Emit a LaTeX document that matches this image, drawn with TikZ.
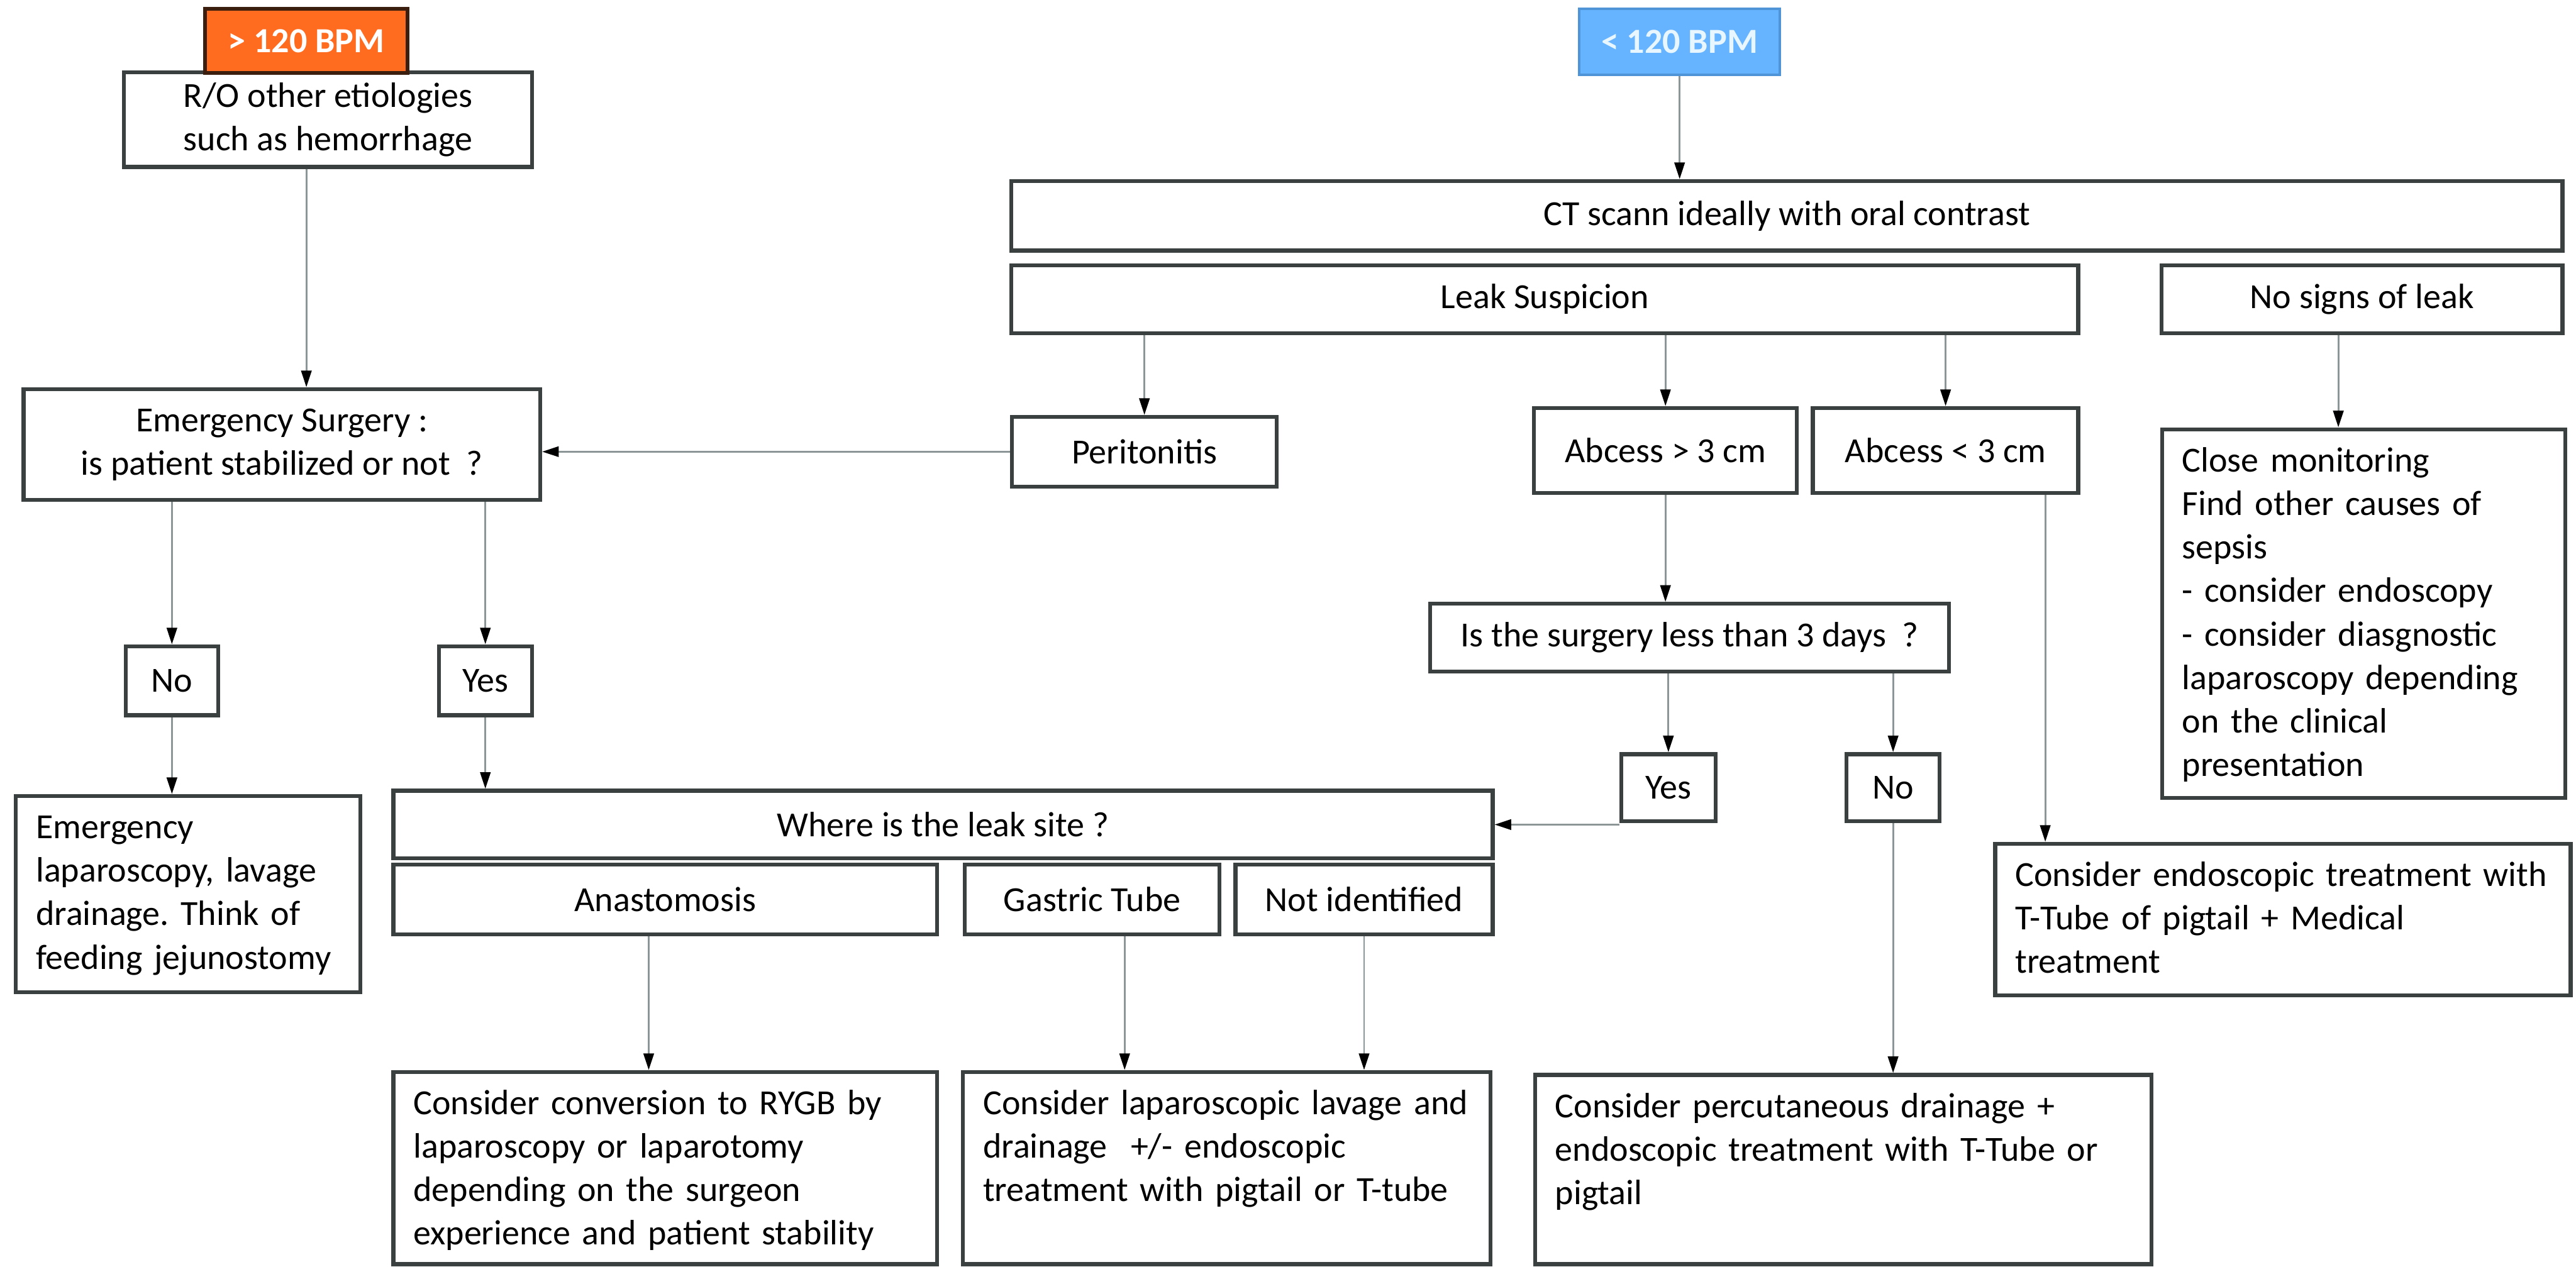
\documentclass[tikz,border=0pt]{standalone}
\usepackage{fontspec}
\setmainfont{Carlito}
\usepackage{tikz}
\usetikzlibrary{positioning,arrows.meta,calc}
\frenchspacing

\definecolor{boxline}{HTML}{3A3F3F}
\definecolor{arrowgray}{HTML}{8C9696}
\definecolor{bpmorange}{HTML}{FF6B1F}
\definecolor{bpmorangedark}{HTML}{3B1E0E}
\definecolor{bpmblue}{HTML}{66B4FF}
\definecolor{bpmbluedark}{HTML}{4F94D6}
\definecolor{bpmbluetext}{HTML}{E8F6FF}

\begin{document}
\begin{tikzpicture}[
	txt/.style={font=\fontsize{17pt}{21pt}\selectfont},
	box/.style={txt, draw=boxline, line width=1.9pt, fill=white, align=center, inner sep=0pt},
	note/.style={txt, draw=boxline, line width=1.9pt, fill=white, align=left, inner xsep=0.34cm, inner ysep=0.1cm, text height=0.62cm},
	fastbox/.style={txt, font=\fontsize{17pt}{21pt}\selectfont\bfseries, draw=bpmorangedark, line width=1.9pt, fill=bpmorange, text=white, inner sep=0pt},
	slowbox/.style={txt, font=\fontsize{17pt}{21pt}\selectfont\bfseries, draw=bpmbluedark, line width=1.2pt, fill=bpmblue, text=bpmbluetext, inner sep=0pt},
	arr/.style={draw=arrowgray, line width=0.9pt, -{Triangle[length=8pt,width=5pt,color=black]}}
	]
			\begingroup
			\useasboundingbox (0,0) rectangle (43.68,-21.48);
			
			\node[box, minimum width=6.92cm, minimum height=1.6cm] (ro) at (5.56,-2.03) {R/O other etiologies\\such as hemorrhage};
			\node[fastbox, minimum width=3.43cm, minimum height=1.09cm] (fast) at (5.195,-0.695) {> 120 BPM};
			\node[slowbox, minimum width=3.4cm, minimum height=1.12cm] (slow) at (28.48,-0.71) {< 120 BPM};
			
			\node[box, minimum width=26.3cm, minimum height=1.18cm] (ct) at (30.30,-3.66) {CT scann ideally with oral contrast};
			\node[box, minimum width=18.09cm, minimum height=1.15cm] (leak) at (26.195,-5.075) {Leak Suspicion};
			\node[box, minimum width=6.8cm, minimum height=1.15cm] (noleak) at (40.05,-5.075) {No signs of leak};
			
			\node[box, minimum width=4.49cm, minimum height=1.18cm] (perit) at (19.405,-7.66) {Peritonitis};
			\node[box, minimum width=4.46cm, minimum height=1.44cm] (big) at (28.24,-7.64) {Abcess > 3 cm};
			\node[box, minimum width=4.5cm, minimum height=1.44cm] (small) at (32.99,-7.64) {Abcess < 3 cm};
			\node[box, minimum width=8.76cm, minimum height=1.88cm] (emerg) at (4.78,-7.54) {Emergency Surgery :\\is patient stabilized or not \ ?};
			
			\node[box, minimum width=1.57cm, minimum height=1.17cm] (no1) at (2.915,-11.545) {No};
			\node[box, minimum width=1.58cm, minimum height=1.17cm] (yes1) at (8.23,-11.545) {Yes};
			\node[box, minimum width=8.8cm, minimum height=1.15cm] (surg) at (28.65,-10.815) {Is the surgery less than 3 days \ ?};
			\node[box, minimum width=1.6cm, minimum height=1.14cm] (yes2) at (28.29,-13.36) {Yes};
			\node[box, minimum width=1.58cm, minimum height=1.14cm] (no2) at (32.10,-13.36) {No};
			
			\node[box, minimum width=18.64cm, minimum height=1.15cm] (where) at (15.99,-13.985) {Where is the leak site ?};
			\node[box, minimum width=9.22cm, minimum height=1.19cm] (anast) at (11.28,-15.255) {Anastomosis};
			\node[box, minimum width=4.32cm, minimum height=1.19cm] (gastric) at (18.52,-15.255) {Gastric Tube};
			\node[box, minimum width=4.36cm, minimum height=1.19cm] (notid) at (23.13,-15.255) {Not identified};
			
			\node[note, text width=5.16cm, text depth=2.51cm] (emlap) at (3.19,-15.165) {Emergency\\laparoscopy, lavage\\drainage. Think of\\feeding jejunostomy};
			\node[note, text width=6.16cm, text depth=5.43cm] (closemon) at (40.08,-10.405) {Close monitoring\\Find other causes of\\sepsis\\- consider endoscopy\\- consider diasgnostic\\laparoscopy depending\\on the clinical\\presentation};
			\node[note, text width=9.08cm, text depth=1.75cm] (endo) at (38.71,-15.595) {Consider endoscopic treatment with\\T-Tube of pigtail + Medical\\treatment};
			\node[note, text width=8.54cm, text depth=2.44cm] (conv) at (11.28,-19.81) {Consider conversion to RYGB by\\laparoscopy or laparotomy\\depending on the surgeon\\experience and patient stability};
			\node[note, text width=8.26cm, text depth=2.44cm] (lap) at (20.80,-19.81) {Consider laparoscopic lavage and\\drainage \ +/- endoscopic\\treatment with pigtail or T-tube};
			\node[note, text width=9.77cm, text depth=2.39cm] (perc) at (31.255,-19.835) {Consider percutaneous drainage +\\endoscopic treatment with T-Tube or\\pigtail};
			
			\draw[arr] (fast.south |- ro.south) to (fast.south |- emerg.north);
			\draw[arr] (slow.south) to (slow.south |- ct.north);
			\draw[arr] (leak.south -| perit) to (perit.north);
			\draw[arr] (leak.south -| big) to (big.north);
			\draw[arr] (leak.south -| small) to (small.north);
			\draw[arr] ([xshift=-0.4cm]noleak.south) to ([xshift=-0.4cm]noleak.south |- closemon.north);
			\draw[arr] (perit.west) to (perit.west -| emerg.east);
			
			\draw[arr] (emerg.south -| no1) to (no1.north);
			\draw[arr] (emerg.south -| yes1) to (yes1.north);
			\draw[arr] (no1.south) to (no1.south |- emlap.north);
			\draw[arr] (yes1.south) to (yes1.south |- where.north);
			
			\draw[arr] (big.south) to (big.south |- surg.north);
			\draw[arr] (surg.south -| yes2) to (yes2.north);
			\draw[arr] (surg.south -| no2) to (no2.north);
			\draw[arr] (where.east -| yes2.west) to (where.east);
			\draw[arr] ([xshift=1.69cm]small.south) to ([xshift=1.69cm]small.south |- endo.north);
			\draw[arr] (no2.south) to (no2.south |- perc.north);
			
			\draw[arr] ([xshift=-0.28cm]anast.south) to ([xshift=-0.28cm]anast.south |- conv.north);
			\draw[arr] ([xshift=0.55cm]gastric.south) to ([xshift=0.55cm]gastric.south |- lap.north);
			\draw[arr] (notid.south) to (notid.south |- lap.north);
			
			\endgroup
\end{tikzpicture}
\end{document}
